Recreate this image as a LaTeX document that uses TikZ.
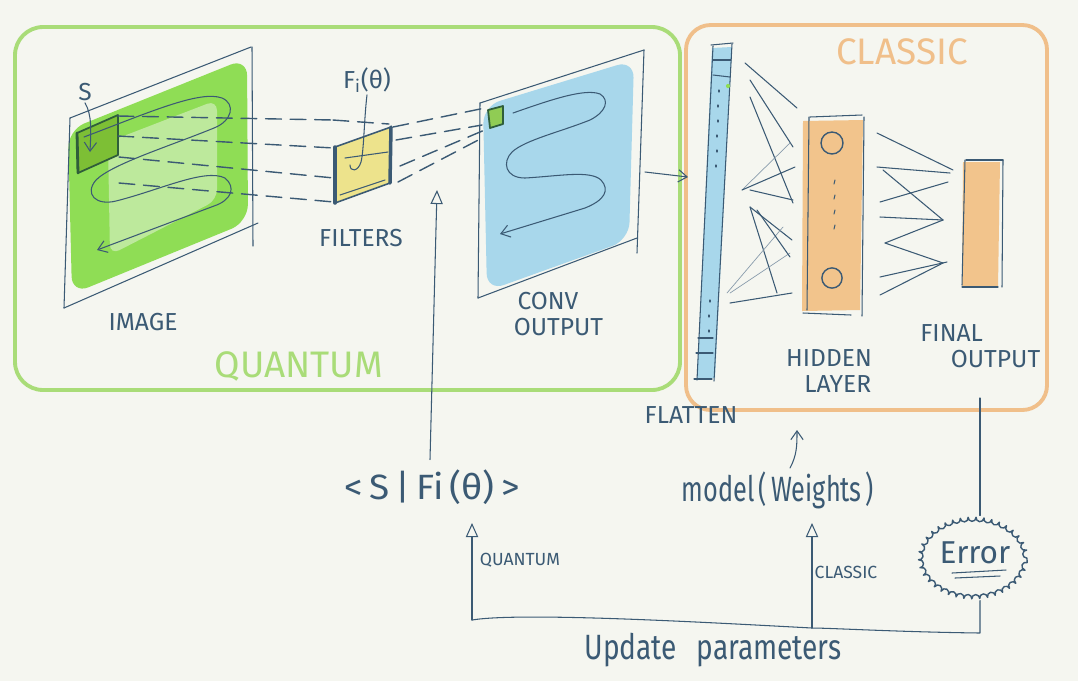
\documentclass[tikz,border=0pt]{standalone}
\usepackage{fontspec}
\usepackage{graphicx}
\setmainfont{Fira Sans}
\usetikzlibrary{arrows.meta,decorations.pathmorphing,shapes.geometric,calc}
\definecolor{bg}{HTML}{F5F6F0}
\definecolor{ink}{HTML}{3B5A74}
\definecolor{qgreen}{HTML}{A9DC78}
\definecolor{corange}{HTML}{F0BF8A}
\definecolor{imgdark}{HTML}{8FDD55}
\definecolor{imglight}{HTML}{BDE99C}
\definecolor{spatch}{HTML}{7DBF35}
\definecolor{sborder}{HTML}{2F5E3A}
\definecolor{filt}{HTML}{EDE38C}
\definecolor{convblue}{HTML}{A8D7EB}
\definecolor{orfill}{HTML}{F2C48C}
\tikzset{
  inkline/.style={draw=ink, line width=0.9pt},
  thinline/.style={draw=ink, line width=0.6pt},
  faintline/.style={draw=ink!60, line width=0.4pt},
  dline/.style={draw=ink, line width=0.8pt, dash pattern=on 9pt off 5pt},
  lbl/.style={text=ink, inner sep=1pt, align=center, font=\fontsize{14}{16}\selectfont},
  hand/.style={text=ink, inner sep=1pt, font=\fontsize{20}{22}\selectfont},
  smalllbl/.style={text=ink, inner sep=1pt, font=\fontsize{10}{12}\selectfont},
  openarr/.style={-{Straight Barb[length=5pt,width=7pt]}},
  triarr/.style={-{Triangle[open,length=8pt,width=7pt]}},
  qbox/.style={draw=qgreen, line width=2.2pt, rounded corners=16pt},
  cbox/.style={draw=corange, line width=2.2pt, rounded corners=14pt},
  neuron/.style={circle, draw=ink, line width=0.8pt, inner sep=0pt, minimum size=12.5pt},
  cloud/.style={draw=ink, line width=0.8pt, decorate, decoration={bumps, segment length=9pt, amplitude=2.2pt}},
}
\begin{document}
\begin{tikzpicture}[x=0.02cm,y=-0.02cm, line cap=round, line join=round]
\fill[bg] (0,0) rectangle (1078,681);
\useasboundingbox (0,0) rectangle (1078,681);

% ---------- group boxes ----------
\draw[qbox] (15,27) rectangle (680,390);
\draw[cbox] (686,25) rectangle (1047,410);
\node[text=qgreen, font=\fontsize{21}{22}\selectfont] (quantumlbl) at (299,366) {QUANTUM};
\node[text=corange, font=\fontsize{21}{22}\selectfont] (classiclbl) at (902,52) {CLASSIC};

% ---------- image ----------
\fill[imgdark, rounded corners=10pt] (68,130) -- (247,58) -- (248,222) -- (72,294) -- cycle;
\fill[imglight, rounded corners=6pt] (108,142) -- (217,100) -- (217,200) -- (110,255) -- cycle;
\draw[thinline] (70,118) -- (251,47);
\draw[thinline] (70,118) -- (64,308);
\draw[thinline] (252,47) -- (253,246);
\draw[thinline] (64,308) -- (258,223);
% S patch
\filldraw[fill=spatch, draw=sborder, line width=1pt] (77,133) -- (118,115) -- (118,155) -- (78,173) -- cycle;
\draw[draw=sborder, line width=1.6pt] (77,133) -- (78,173);
\node[lbl] (slbl) at (85,92) {S};
\draw[thinline, openarr] (slbl.south) .. controls (92,115) and (91,130) .. (90,152);
% serpentine
\draw[thinline, openarr] (84,137) .. controls (150,112) and (200,90) .. (222,98)
  .. controls (236,104) and (232,121) .. (214,128)
  .. controls (170,146) and (112,164) .. (96,180)
  .. controls (84,194) and (96,206) .. (116,201)
  .. controls (160,190) and (205,168) .. (225,178)
  .. controls (236,187) and (232,200) .. (214,206)
  -- (97,250);
\node[lbl] (imagelbl) at (143,322) {IMAGE};

% ---------- filter ----------
\coordinate (ftl) at (335,147);
\coordinate (ftr) at (391,127);
\coordinate (fbr) at (390,183);
\coordinate (fbl) at (335,203);
\fill[filt] (ftl) -- (ftr) -- (fbr) -- (fbl) -- cycle;
\draw[inkline] (ftl) -- (ftr);
\draw[inkline] (fbl) -- (fbr);
\draw[draw=ink, line width=2pt] (ftl) -- (fbl);
\draw[draw=ink, line width=2pt] (ftr) -- (fbr);
\draw[thinline] (345,158) -- (388,152);
\draw[thinline] (340,195) -- (385,180);
\node[lbl] (filtlbl) at (367,80) {F\textsubscript{i}(θ)};
\draw[thinline] (filtlbl.south) .. controls (364,120) and (364,150) .. (361,162) .. controls (358,172) and (350,172) .. (350,165);
\node[lbl] (filterslbl) at (361,238) {FILTERS};

% image -> filter dashed lines
\draw[dline] (118,116) -- (333,120);
\draw[dline] (333,120) -- (389,124);
\draw[dline] (118,136) -- (334,148);
\draw[dline] (119,157) -- (334,178);
\draw[dline] (119,183) -- (334,202);

% ---------- conv output ----------
\fill[convblue, rounded corners=10pt] (483,106) -- (634,60) -- (629,240) -- (487,291) -- cycle;
\draw[thinline] (480,103) -- (644,50);
\draw[thinline] (480,103) -- (478,298);
\draw[thinline] (644,50) -- (637,253);
\draw[thinline] (478,298) -- (637,238);
\filldraw[fill=spatch!70!imglight, draw=sborder, line width=1pt] (488,110) -- (503,106) -- (503,124) -- (490,128) -- cycle;
\draw[thinline, openarr] (513,113) .. controls (550,100) and (585,88) .. (600,94)
  .. controls (610,100) and (606,112) .. (590,120)
  .. controls (560,132) and (525,140) .. (512,152)
  .. controls (502,162) and (505,178) .. (525,178)
  .. controls (560,176) and (590,170) .. (601,180)
  .. controls (610,190) and (605,200) .. (585,208)
  -- (500,234);
\node[lbl] (convlbl) at (548,314) {CONV\\[-1pt]\hspace*{12pt}OUTPUT};

% filter -> conv dashed lines
\draw[dline] (393,127) -- (485,108);
\draw[dline] (396,140) -- (482,125);
\draw[dline] (400,166) -- (487,129);
\draw[dline] (398,182) -- (484,137);

% quantum measurement arrow
\node[hand] (bra) at (432,487) {\scalebox{1.05}[1]{<\,S\,|\,Fi\,(θ)\,>}};
\coordinate (brahead) at (437,190);
\draw[thinline, triarr] (bra.north) ++(-2,-8) -- (brahead);

% conv -> flatten
\coordinate (convout) at (645,172);
\coordinate (flatin) at (688,177);
\draw[thinline, openarr] (convout) -- (flatin);

% ---------- flatten ----------
\fill[convblue] (712,48) -- (732,47) -- (715,378) -- (697,378) -- cycle;
\draw[thinline] (713,46) -- (697,380);
\draw[thinline] (732,44) -- (714,381);
\draw[thinline] (711,45) -- (733,43);
\draw[thinline] (713,60) -- (731,60);
\draw[thinline] (713,75) -- (730,77);
\draw[thinline] (698,338) -- (713,338);
\draw[thinline] (696,353) -- (713,353);
\draw[thinline] (694,379) -- (712,379);
\foreach \yy/\xx in {90/719,105/718,120/718,135/717,150/717,165/716,300/710,315/709,330/709}
  \draw[thinline] (\xx,\yy) -- (\xx,\yy+2);
\fill[imgdark] (728,86) circle (1.2pt);
\node[lbl] (flattenlbl) at (691,415) {FLATTEN};

% ---------- hidden layer ----------
\fill[orfill] (803,121) -- (863,120) -- (860,310) -- (802,311) -- cycle;
\draw[thinline] (810,117) -- (862,115);
\draw[thinline] (809,117) -- (807,310);
\draw[thinline] (864,117) -- (862,316);
\draw[thinline] (803,313) -- (851,315);
\node[neuron] (h1) at (832,143) {};
\node[neuron, minimum size=11.5pt] (h2) at (832,278) {};
\foreach \yy in {180,195,210,225}
  \draw[thinline] (835,\yy) -- (834,\yy+4);
\node[lbl] (hiddenlbl) at (829,371) {HIDDEN\\[-1pt]\hspace*{10pt}LAYER};

% flatten -> hidden connections
\draw[thinline] (745,63) -- (797,108);
\draw[thinline] (750,80) -- (793,147);
\draw[thinline] (750,97) -- (793,203);
\draw[faintline] (742,190) -- (790,143);
\draw[thinline] (742,190) -- (795,167);
\draw[thinline] (750,190) -- (793,200);
\draw[thinline] (750,207) -- (792,240);
\draw[thinline] (750,207) -- (777,293);
\draw[faintline] (727,293) -- (783,227);
\draw[faintline] (730,293) -- (790,253);
\draw[thinline] (730,303) -- (792,293);
\draw[thinline] (757,210) -- (790,257);

% ---------- final output ----------
\fill[orfill] (963,162) -- (1000,162) -- (998,287) -- (962,287) -- cycle;
\draw[thinline] (966,160) -- (1003,160);
\draw[thinline] (965,160) -- (962,285);
\draw[thinline] (1003,160) -- (1002,287);
\draw[thinline] (962,287) -- (998,287);
\node[lbl] (finallbl) at (978,346) {\hspace*{-30pt}FINAL\\[-1pt]\hspace*{20pt}OUTPUT};

% hidden -> final connections
\draw[thinline] (877,133) -- (953,170);
\draw[thinline] (877,167) -- (950,173);
\draw[thinline] (883,170) -- (943,220);
\draw[thinline] (880,202) -- (948,182);
\draw[thinline] (880,217) -- (943,220);
\draw[thinline] (943,220) -- (885,243);
\draw[thinline] (885,243) -- (943,263);
\draw[thinline] (880,277) -- (947,262);
\draw[thinline] (880,295) -- (943,263);

% ---------- model weights ----------
\node[hand] (model) at (778,490) {\scalebox{0.72}[1]{model\,(\,Weights\,)}};
\coordinate (modeltip) at (797,430);
\draw[thinline, openarr] (790,468) .. controls (797,455) and (797,445) .. (modeltip);

% ---------- error & update ----------
\node[ellipse, minimum width=63pt, minimum height=48pt, inner sep=0pt] (err) at (973,558) {};
\draw[cloud] (err.center) ellipse (30.5pt and 23pt);
\node[hand, font=\fontsize{18}{20}\selectfont] (errtxt) at (975,553) {Error};
\draw[thinline] (952,573) -- (1006,570);
\draw[thinline] (955,578) -- (1000,576);
\coordinate (finalbottom) at (980,398);
\draw[thinline] (finalbottom) -- (err.north -| finalbottom);

\coordinate (errdown) at (980,633);
\coordinate (qcorner) at (472,620);
\coordinate (qtip) at (472,523);
\coordinate (cbranch) at (812,628);
\coordinate (ctip) at (812,523);
\draw[thinline] (err.south -| errdown) -- (errdown)
  .. controls (900,632) and (830,628) .. (cbranch)
  .. controls (700,622) and (520,612) .. (qcorner);
\draw[thinline, triarr] (qcorner) -- (qtip);
\draw[thinline, triarr] (cbranch) -- (ctip);
\node[smalllbl] (qsmall) at (520,560) {QUANTUM};
\node[smalllbl] (csmall) at (846,572) {CLASSIC};
\node[hand] (update) at (713,650) {\scalebox{0.8}[1]{Update\hspace{14pt}parameters}};
\end{tikzpicture}
\end{document}
